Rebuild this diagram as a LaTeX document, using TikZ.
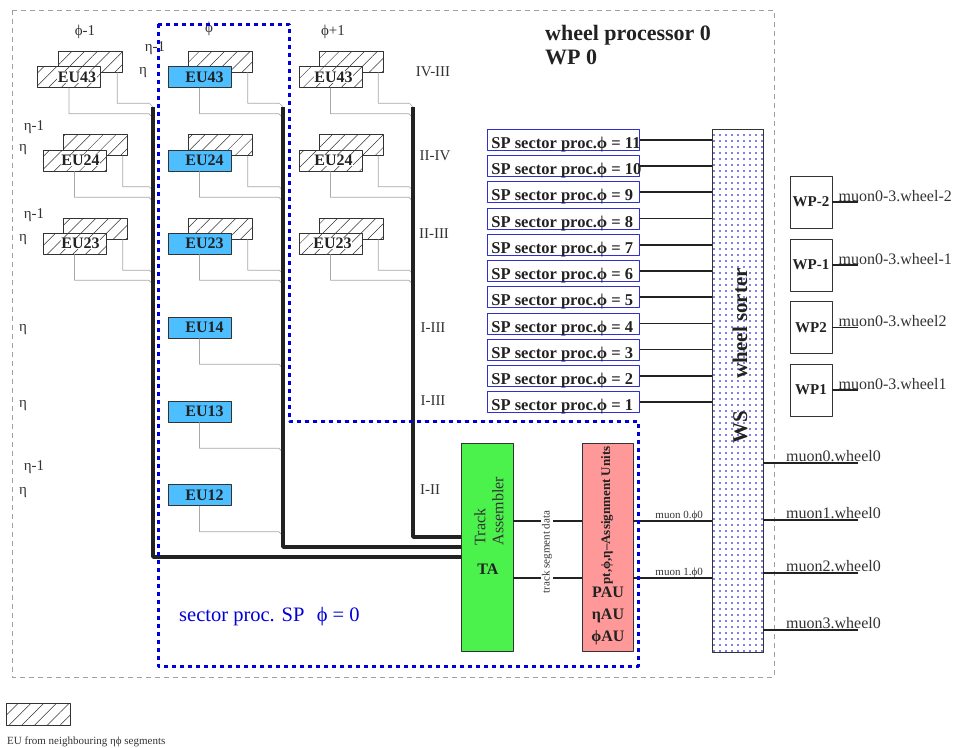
\documentclass[tikz,border=0pt]{standalone}
\usepackage{fontspec}
\setmainfont{Liberation Serif}
\usetikzlibrary{patterns.meta}
\definecolor{eublue}{HTML}{4DBEFF}
\definecolor{tagreen}{HTML}{4CF24C}
\definecolor{aupink}{HTML}{FF9898}
\definecolor{sectorblue}{HTML}{0000D8}
\definecolor{spblue}{HTML}{3030D0}
\definecolor{framegray}{HTML}{A0A0A0}
\definecolor{wiregray}{HTML}{A8A8A8}
\definecolor{busblack}{HTML}{222222}
\definecolor{textgray}{HTML}{333333}
\newcommand{\spname}[1]{\makebox[144pt][l]{SP sector proc.ϕ = #1}}

\begin{document}
\begin{tikzpicture}[x=1pt, y=-1pt, line join=round,
  hatch/.style={draw=textgray, line width=0.6pt, preaction={fill=white},
    pattern={Lines[angle=45, distance=9pt, line width=0.5pt]}, pattern color=textgray,
    minimum width=64, minimum height=21, inner sep=0},
  eucell/.style={draw=textgray, line width=0.6pt, fill=eublue, minimum width=63,
    minimum height=21, inner sep=0, text=busblack,
    font=\bfseries\fontsize{16}{16}\selectfont, execute at begin node=\hspace*{10pt}},
  eutag/.style={fill=white, inner sep=0.6pt, text=busblack, font=\bfseries\fontsize{16}{16}\selectfont},
  wire/.style={draw=wiregray, line width=0.7pt},
  bus/.style={draw=busblack, line width=3.6pt},
  link/.style={draw=busblack, line width=1.5pt},
  lbl/.style={text=textgray, inner sep=0, font=\fontsize{15}{15}\selectfont},
  spbox/.style={draw=spblue, line width=0.8pt, anchor=north west, inner xsep=4pt,
    inner ysep=1.5pt, text height=18pt, text depth=0pt, text=busblack,
    font=\bfseries\fontsize{16.5}{16.5}\selectfont},
  wpbox/.style={draw=textgray, line width=0.7pt, minimum width=42, minimum height=52,
    inner sep=0, text=busblack, font=\bfseries\fontsize{15}{15}\selectfont},
  outtext/.style={anchor=base west, inner sep=0, text=textgray, font=\fontsize{16}{16}\selectfont},
  small/.style={inner sep=0, text=textgray, font=\fontsize{11}{11}\selectfont}]
  \useasboundingbox (0,0) rectangle (955,747);
  \draw[framegray, line width=0.7pt, dash pattern=on 5pt off 4pt] (12,10) rectangle (774,677);

  \node[lbl, anchor=base west, text=busblack, font=\bfseries\fontsize{22}{22}\selectfont] (wptitle) at (545,40) {wheel processor 0};
  \node[lbl, anchor=base west, text=busblack, font=\bfseries\fontsize{22}{22}\selectfont] (wpname) at (545,64) {WP 0};

  \node[lbl] (phim) at (85,32) {ϕ-1};
  \node[lbl] (phic) at (209,29) {ϕ};
  \node[lbl] (phip) at (333,32) {ϕ+1};
  \node[lbl] (etam) at (155,48) {η-1};
  \node[lbl] (eta) at (143,73) {η};
  \node[lbl] (etam24) at (34,127) {η-1};
  \node[lbl] (eta24) at (23,150) {η};
  \node[lbl] (etam23) at (34,215) {η-1};
  \node[lbl] (eta23) at (23,240) {η};
  \node[lbl] (eta14) at (23,330) {η};
  \node[lbl] (eta13) at (23,406) {η};
  \node[lbl] (etam12) at (34,467) {η-1};
  \node[lbl] (eta12) at (23,493) {η};
  \node[lbl] (sIVIII) at (433,72) {IV-III};
  \node[lbl] (sIIIV) at (435,156) {II-IV};
  \node[lbl] (sIIIII) at (434,234) {II-III};
  \node[lbl] (sIIIIa) at (433,328) {I-III};
  \node[lbl] (sIIIIb) at (433,401) {I-III};
  \node[lbl] (sIII) at (430,490) {I-II};

  % neighbour phi-1
  \node[hatch] (l43b) at (90,61.5) {};
  \node[hatch, minimum width=63, label={[eutag, xshift=8pt]center:EU43}] (l43) at (69,77) {};
  \node[hatch] (l24b) at (95.5,145) {};
  \node[hatch, minimum width=63, label={[eutag, xshift=6pt]center:EU24}] (l24) at (74.5,160.5) {};
  \node[hatch] (l23b) at (95.5,228.5) {};
  \node[hatch, minimum width=63, label={[eutag, xshift=6pt]center:EU23}] (l23) at (74.5,243.5) {};

  % own sector phi
  \node[hatch] (c43b) at (220.5,61.5) {};
  \node[eucell] (c43) at (199.5,77) {EU43};
  \node[hatch] (c24b) at (220.5,145) {};
  \node[eucell] (c24) at (199.5,160.5) {EU24};
  \node[hatch] (c23b) at (220.5,228.5) {};
  \node[eucell] (c23) at (199.5,243.5) {EU23};
  \node[eucell] (c14) at (199.5,327.5) {EU14};
  \node[eucell] (c13) at (199.5,411.5) {EU13};
  \node[eucell] (c12) at (199.5,495) {EU12};

  % neighbour phi+1
  \node[hatch] (r43b) at (351,61.5) {};
  \node[hatch, minimum width=63, label={[eutag, xshift=3pt]center:EU43}] (r43) at (330.5,77) {};
  \node[hatch] (r24b) at (351,145) {};
  \node[hatch, minimum width=63, label={[eutag, xshift=3pt]center:EU24}] (r24) at (330.5,160.5) {};
  \node[hatch] (r23b) at (351,228.5) {};
  \node[hatch, minimum width=63, label={[eutag, xshift=2pt]center:EU23}] (r23) at (330.5,243.5) {};

  \draw[wire] (l43.south) -- ++(0,26) -- ++(80,0) -- ++(4,4);
  \draw[wire] ([xshift=-5pt]l43b.south east) -- ++(0,31) -- ++(32,0) -- ++(4,4);
  \draw[wire] (l24.south) -- ++(0,26) -- ++(74.5,0) -- ++(4,4);
  \draw[wire] ([xshift=-5pt]l24b.south east) -- ++(0,31) -- ++(26.5,0) -- ++(4,4);
  \draw[wire] (l23.south) -- ++(0,26) -- ++(74.5,0) -- ++(4,4);
  \draw[wire] ([xshift=-5pt]l23b.south east) -- ++(0,31) -- ++(26.5,0) -- ++(4,4);
  \draw[wire] (c43.south) -- ++(0,26) -- ++(79.5,0) -- ++(4,4);
  \draw[wire] ([xshift=-5pt]c43b.south east) -- ++(0,31) -- ++(31.5,0) -- ++(4,4);
  \draw[wire] (c24.south) -- ++(0,26) -- ++(79.5,0) -- ++(4,4);
  \draw[wire] ([xshift=-5pt]c24b.south east) -- ++(0,31) -- ++(31.5,0) -- ++(4,4);
  \draw[wire] (c23.south) -- ++(0,26) -- ++(79.5,0) -- ++(4,4);
  \draw[wire] ([xshift=-5pt]c23b.south east) -- ++(0,31) -- ++(31.5,0) -- ++(4,4);
  \draw[wire] (c14.south) -- ++(0,26) -- ++(79.5,0) -- ++(4,4);
  \draw[wire] (c13.south) -- ++(0,26) -- ++(79.5,0) -- ++(4,4);
  \draw[wire] (c12.south) -- ++(0,26) -- ++(79.5,0) -- ++(4,4);
  \draw[wire] (r43.south) -- ++(0,26) -- ++(78.5,0) -- ++(4,4);
  \draw[wire] ([xshift=-5pt]r43b.south east) -- ++(0,31) -- ++(31,0) -- ++(4,4);
  \draw[wire] (r24.south) -- ++(0,26) -- ++(78.5,0) -- ++(4,4);
  \draw[wire] ([xshift=-5pt]r24b.south east) -- ++(0,31) -- ++(31,0) -- ++(4,4);
  \draw[wire] (r23.south) -- ++(0,26) -- ++(78.5,0) -- ++(4,4);
  \draw[wire] ([xshift=-5pt]r23b.south east) -- ++(0,31) -- ++(31,0) -- ++(4,4);

  % track assembler and assignment units
  \node[draw=textgray, line width=0.7pt, fill=tagreen, minimum width=52, minimum height=208] (ta) at (487,547) {};
  \node[draw=textgray, line width=0.7pt, fill=aupink, minimum width=51, minimum height=208] (au) at (607.5,547) {};
  \node[rotate=90, align=left, inner sep=0, text=textgray, font=\fontsize{16}{18}\selectfont] (talbl) at (489,511) {Track\\Assembler};
  \node[inner sep=0, text=busblack, font=\bfseries\fontsize{16}{16}\selectfont] (taname) at (488,569) {TA};
  \node[rotate=90, inner sep=0, text=busblack, font=\bfseries\fontsize{13}{13}\selectfont] (aulbl) at (607,515.5) {pt,ϕ,η–Assignment Units};
  \node[align=center, inner sep=0, text=busblack, font=\bfseries\fontsize{16}{22}\selectfont] (auname) at (608,616) {PAU\\ηAU\\ϕAU};

  \coordinate (busL) at (153,107);
  \coordinate (busM) at (283,107);
  \coordinate (busR) at (413,107);
  \draw[bus] (busL) |- ([yshift=-10pt]ta.west);
  \draw[bus] (busM) |- (ta.west);
  \draw[bus] (busR) |- ([yshift=10pt]ta.west);

  \draw[link] ([yshift=26pt]ta.east) -- ([yshift=26pt]au.west);
  \draw[link] ([yshift=-31pt]ta.east) -- ([yshift=-31pt]au.west);
  \node[small, rotate=90, fill=white, inner sep=1pt] (tsd) at (547,552) {track segment data};

  % wheel sorter
  \node[draw=textgray, line width=0.7pt, preaction={fill=white}, pattern={Dots[radius=0.8pt, distance=6pt]},
    pattern color=sectorblue, minimum width=51, minimum height=523] (ws) at (737.5,390.5) {};
  \node[rotate=90, inner sep=0, text=busblack, font=\bfseries\fontsize{21}{21}\selectfont] (wslbl) at (740,356) {WS\hspace{33pt}wheel sorter};

  \draw[link] ([yshift=26pt]au.east) -- ([yshift=26pt]au.east -| ws.west);
  \draw[link] ([yshift=-31pt]au.east) -- ([yshift=-31pt]au.east -| ws.west);
  \node[small, anchor=base east] (mu0phi) at (703,518) {muon 0.ϕ0};
  \node[small, anchor=base east] (mu1phi) at (703,575) {muon 1.ϕ0};

  \node[spbox] (sp11) at (487,129) {\spname{11}};
  \node[spbox] (sp10) at (487,155) {\spname{10}};
  \node[spbox] (sp9) at (487,181) {\spname{9}};
  \node[spbox] (sp8) at (487,207.5) {\spname{8}};
  \node[spbox] (sp7) at (487,234) {\spname{7}};
  \node[spbox] (sp6) at (487,260) {\spname{6}};
  \node[spbox] (sp5) at (487,286) {\spname{5}};
  \node[spbox] (sp4) at (487,312.5) {\spname{4}};
  \node[spbox] (sp3) at (487,338.5) {\spname{3}};
  \node[spbox] (sp2) at (487,365) {\spname{2}};
  \node[spbox] (sp1) at (487,391) {\spname{1}};
  \draw[link] (sp11.east) -- (sp11.east -| ws.west);
  \draw[link] (sp10.east) -- (sp10.east -| ws.west);
  \draw[link] (sp9.east) -- (sp9.east -| ws.west);
  \draw[link] (sp8.east) -- (sp8.east -| ws.west);
  \draw[link] (sp7.east) -- (sp7.east -| ws.west);
  \draw[link] (sp6.east) -- (sp6.east -| ws.west);
  \draw[link] (sp5.east) -- (sp5.east -| ws.west);
  \draw[link] (sp4.east) -- (sp4.east -| ws.west);
  \draw[link] (sp3.east) -- (sp3.east -| ws.west);
  \draw[link] (sp2.east) -- (sp2.east -| ws.west);
  \draw[link] (sp1.east) -- (sp1.east -| ws.west);

  % other wheel processors
  \node[wpbox] (wpm2) at (811,202) {WP-2};
  \node[wpbox] (wpm1) at (811,265) {WP-1};
  \node[wpbox] (wpp2) at (811,327.5) {WP2};
  \node[wpbox] (wpp1) at (811,390) {WP1};
  \draw[link] (wpm2.east) -- ++(26,0);
  \draw[link] (wpm1.east) -- ++(26,0);
  \draw[link] (wpp2.east) -- ++(26,0);
  \draw[link] (wpp1.east) -- ++(26,0);
  \node[outtext] (om2) at ([xshift=6pt, yshift=1pt]wpm2.east) {muon0-3.wheel-2};
  \node[outtext] (om1) at ([xshift=6pt, yshift=1pt]wpm1.east) {muon0-3.wheel-1};
  \node[outtext] (op2) at ([xshift=6pt, yshift=1pt]wpp2.east) {muon0-3.wheel2};
  \node[outtext] (op1) at ([xshift=6pt, yshift=1pt]wpp1.east) {muon0-3.wheel1};

  \coordinate (mu0) at (858,463);
  \coordinate (mu1) at (858,520);
  \coordinate (mu2) at (858,573);
  \coordinate (mu3) at (858,630);
  \draw[link] (mu0 -| ws.east) -- (mu0);
  \draw[link] (mu1 -| ws.east) -- (mu1);
  \draw[link] (mu2 -| ws.east) -- (mu2);
  \draw[link] (mu3 -| ws.east) -- (mu3);
  \node[outtext] (mu0t) at (786,461) {muon0.wheel0};
  \node[outtext] (mu1t) at (786,518) {muon1.wheel0};
  \node[outtext] (mu2t) at (786,571) {muon2.wheel0};
  \node[outtext] (mu3t) at (786,628) {muon3.wheel0};

  % sector processor border
  \draw[sectorblue, line width=3pt, dash pattern=on 4pt off 4pt]
    (158,24) -- (289,24) -- (289,421) -- (638,421) -- (638,666) -- (158,666) -- cycle;
  \node[anchor=west, inner sep=0, text=sectorblue, font=\fontsize{20.5}{20.5}\selectfont] (splbl) at (179,617) {sector proc. SP\hspace{0.6em}ϕ = 0};

  \node[hatch, minimum height=22] (legbox) at (38,714) {};
  \node[small, anchor=base west] (legtxt) at (7,744) {EU from neighbouring ηϕ segments};
\end{tikzpicture}
\end{document}
